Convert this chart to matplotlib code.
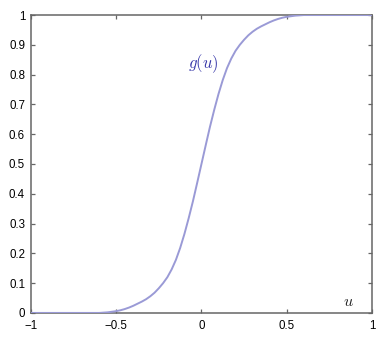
import matplotlib
matplotlib.use("Agg")
import matplotlib.pyplot as plt

# values
u_vals = [-1.0, -0.6, -0.575, -0.55, -0.525, -0.5, -0.475, -0.45, -0.425, -0.4,
          -0.375, -0.35, -0.325, -0.3, -0.275, -0.25, -0.225, -0.2, -0.175,
          -0.15, -0.125, -0.1, -0.075, -0.05, -0.025, 0.0,
          0.025, 0.05, 0.075, 0.1, 0.125, 0.15, 0.175, 0.2, 0.225, 0.25,
          0.275, 0.3, 0.325, 0.35, 0.375, 0.4, 0.425, 0.45, 0.475, 0.5,
          0.525, 0.55, 0.575, 0.6, 1.0]
g_vals = [0.0, 0.0, 0.001, 0.002, 0.004, 0.006, 0.009, 0.013, 0.018, 0.024,
          0.031, 0.038, 0.046, 0.056, 0.068, 0.083, 0.100, 0.120, 0.146,
          0.178, 0.218, 0.265, 0.318, 0.375, 0.437, 0.500,
          0.563, 0.625, 0.682, 0.735, 0.782, 0.822, 0.854, 0.880, 0.900, 0.917,
          0.932, 0.944, 0.954, 0.962, 0.969, 0.976, 0.982, 0.987, 0.991, 0.994,
          0.996, 0.998, 0.999, 1.0, 1.0]

x_ticks = [-1, -0.5, 0, 0.5, 1]
x_labels = ["\u22121", "\u22120.5", "0", "0.5", "1"]
y_ticks = [0, 0.1, 0.2, 0.3, 0.4, 0.5, 0.6, 0.7, 0.8, 0.9, 1]
y_labels = ["0", "0.1", "0.2", "0.3", "0.4", "0.5", "0.6", "0.7", "0.8", "0.9", "1"]

plt.rcParams['font.family'] = ['Liberation Sans', 'DejaVu Sans']
plt.rcParams['mathtext.fontset'] = 'cm'

fig = plt.figure(figsize=(3.83, 3.42), dpi=100)
ax = fig.add_axes([0.081, 0.085, 0.890, 0.871])

ax.plot(u_vals, g_vals, color='#9a9ad6', linewidth=1.4, solid_capstyle='butt', zorder=3)

ax.set_xlim(-1, 1)
ax.set_ylim(0, 1)
ax.set_xticks(x_ticks)
ax.set_xticklabels(x_labels)
ax.set_yticks(y_ticks)
ax.set_yticklabels(y_labels)
ax.tick_params(direction='in', length=3, width=0.9, colors='#666666',
               labelcolor='black', labelsize=8.3, top=True, right=True)
ax.tick_params(axis='y', pad=4.3)
ax.tick_params(axis='x', pad=5)
for s in ax.spines.values():
    s.set_color('#666666')
    s.set_linewidth(1.1)

ax.text(0.01, 0.838, r'$g(u)$', color='#3a3aaa', fontsize=12,
        ha='center', va='center')
ax.text(0.861, 0.038, r'$u$', color='#222222', fontsize=11.5,
        ha='center', va='center')

fig.savefig('out.png', dpi=100)
